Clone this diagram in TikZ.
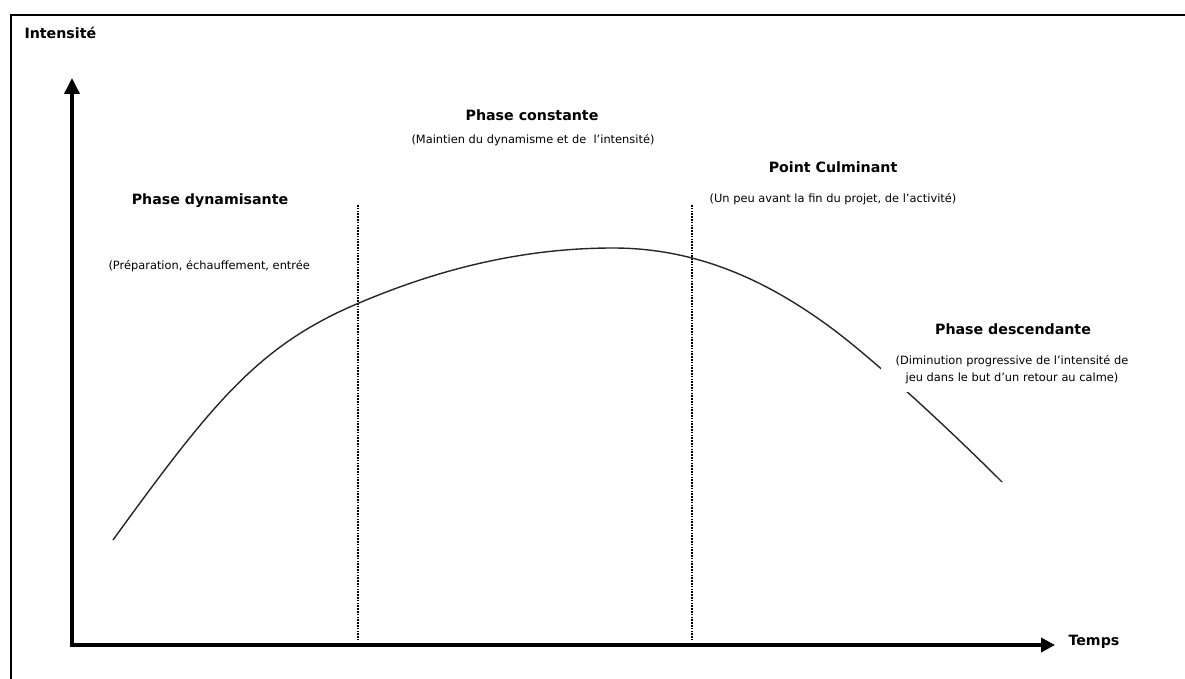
\documentclass[tikz,border=0pt]{standalone}
\usepackage{fontspec}
\setmainfont{DejaVu Sans}
\usetikzlibrary{arrows.meta}

\begin{document}
\begin{tikzpicture}[x=1pt,y=-1pt,
  titre/.style={font=\bfseries\fontsize{14.2}{17}\selectfont},
  sous/.style={font=\fontsize{11.4}{17}\selectfont},
  axe/.style={line width=3.5pt,line join=miter,{Triangle[length=16pt,width=15pt]}-{Triangle[length=14pt,width=14pt]}},
  separ/.style={line width=1.7pt,dash pattern=on 1.6pt off 1.2pt}]
\useasboundingbox (0,0) rectangle (1185,679);
\draw[line width=2pt] (11,679)--(11,15)--(1185,15);
\coordinate (ytip) at (72,78);
\coordinate (O) at (72,645);
\coordinate (xtip) at (1055,645);
\coordinate (d1h) at (358,205);
\coordinate (d1b) at (358,640);
\coordinate (d2h) at (692,205);
\coordinate (d2b) at (692,640);
\draw[separ] (d1h)--(d1b);
\draw[separ] (d2h)--(d2b);
\draw[line width=1.4pt,color=black!85] (113,540) .. controls (213,402) and (259,345) .. (359,303)
  .. controls (439,269) and (523,248) .. (613,248)
  .. controls (700,248) and (770,283) .. (830,327)
  .. controls (880,364) and (960,440) .. (1002,482);
\draw[axe] (ytip)--(O)--(xtip);
\node[titre,anchor=west] (intens) at (21,33) {Intensité};
\node[titre,anchor=west] (temps) at (1065,642) {Temps};
\node[titre] (dyn) at (210,201) {Phase dynamisante};
\node[sous,anchor=west] (dynt) at (105,266) {(Préparation, échauffement, entrée};
\node[titre] (const) at (532,115) {Phase constante};
\node[sous] (constt) at (533,140) {(Maintien du dynamisme et de~ l'intensité)};
\node[titre] (culm) at (833,167) {Point Culminant};
\node[sous] (culmt) at (833,199) {(Un peu avant la fin du projet, de l'activité)};
\node[titre] (desc) at (1013,329) {Phase descendante};
\node[sous,fill=white,align=center,inner xsep=15pt,inner ysep=8pt] (desct) at (1012,370)
  {(Diminution progressive de l'intensité de\\jeu dans le but d'un retour au calme)};
\end{tikzpicture}
\end{document}
